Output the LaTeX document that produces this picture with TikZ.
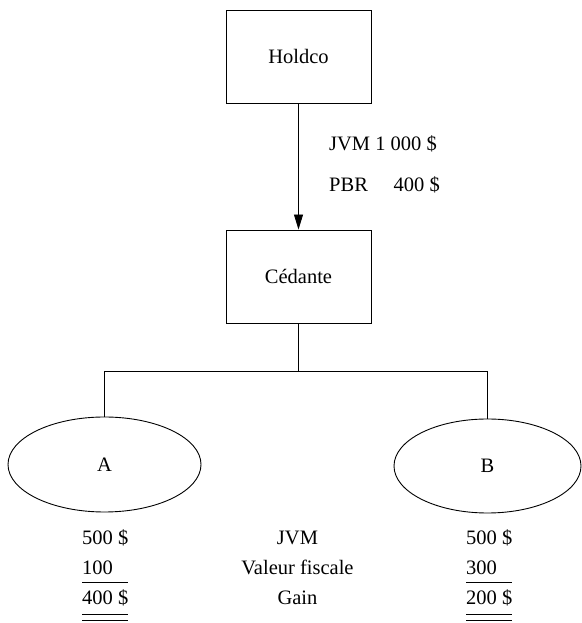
\documentclass[tikz,border=0pt]{standalone}
\usepackage{fontspec}
\setmainfont{Liberation Serif}
\usetikzlibrary{shapes.geometric,arrows.meta}
\begin{document}
\begin{tikzpicture}[x=1pt,y=1pt,
  every node/.style={font=\rmfamily\fontsize{20.5}{24}\selectfont},
  entity/.style={draw, line width=0.9pt, minimum width=145pt, minimum height=93pt, inner sep=0pt},
  sub/.style={draw, ellipse, line width=0.9pt, inner sep=0pt},
  lbl/.style={inner sep=0pt},
  link/.style={line width=0.9pt},
  rule/.style={line width=0.9pt}]
\useasboundingbox (0,0) rectangle (581,623);

% corporations
\node[entity] (hold) at (298.5,566.5) {Holdco};
\node[entity] (ced)  at (298.5,346.5) {Cédante};
\node[sub, minimum width=193pt, minimum height=95pt] (a) at (104.5,158.5) {A};
\node[sub, minimum width=187pt, minimum height=94pt] (b) at (487.5,157) {B};

% share transfer
\draw[link, -{Triangle[length=15pt,width=9pt]}] (hold.south) -- (ced.north);
\node[lbl, anchor=base west] (jvmtop) at (329,472) {JVM 1 000 \$};
\node[lbl, anchor=base west] (pbr) at (329,431) {PBR};
\node[lbl, anchor=base east] (pbrval) at (440,431) {400 \$};

% subsidiaries
\coordinate (bar) at (298.5,252);
\draw[link] (ced.south) -- (bar);
\draw[link] (a.north) -- (a.north |- bar) -- (b.north |- bar) -- (b.north);

% values of A
\node[lbl, anchor=base west] (ajvm)  at (82,78) {500 \$};
\node[lbl, anchor=base west] (avf)   at (82,48) {100};
\node[lbl, anchor=base west] (again) at (82,18) {400 \$};
\draw[rule] (82,40.5) -- (128,40.5);
\draw[rule] (82,8.5) -- (128,8.5);
\draw[rule] (82,3) -- (128,3);

% row headings
\node[lbl, anchor=base] (hjvm)  at (297.5,78) {JVM};
\node[lbl, anchor=base] (hvf)   at (297.5,48) {Valeur fiscale};
\node[lbl, anchor=base] (hgain) at (297.5,18) {Gain};

% values of B
\node[lbl, anchor=base west] (bjvm)  at (466,78) {500 \$};
\node[lbl, anchor=base west] (bvf)   at (466,48) {300};
\node[lbl, anchor=base west] (bgain) at (466,18) {200 \$};
\draw[rule] (466,40.5) -- (512,40.5);
\draw[rule] (466,8.5) -- (512,8.5);
\draw[rule] (466,3) -- (512,3);
\end{tikzpicture}
\end{document}
